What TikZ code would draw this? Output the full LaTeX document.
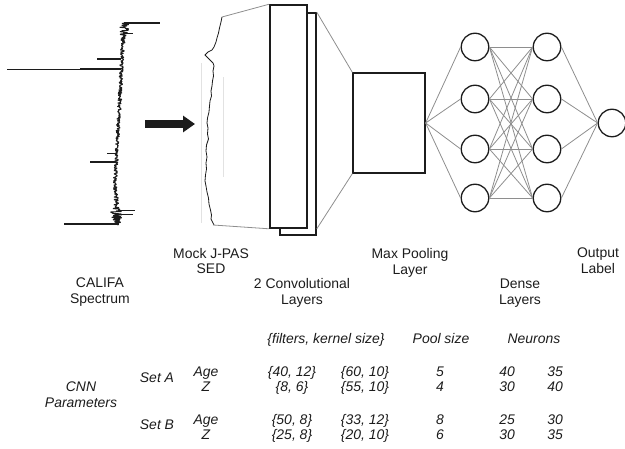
\documentclass[tikz,border=0pt]{standalone}
\usepackage{fontspec}
\setmainfont{Liberation Sans}
\usepackage{tikz}
\usetikzlibrary{arrows.meta, positioning, calc}
\usepackage{xcolor}
\definecolor{inkdark}{HTML}{1c1c1c}
\definecolor{wiregrey}{HTML}{8e8e8e}
\definecolor{ghostgrey}{HTML}{e2e2e2}
\tikzset{
  layerbox/.style={rectangle, draw=inkdark, fill=white, line width=1.6bp, inner sep=0},
  poolbox/.style={rectangle, draw=inkdark, fill=white, line width=1.3bp, inner sep=0,
                  minimum width=72bp, minimum height=100bp},
  neuron/.style={circle, draw=inkdark, fill=white, line width=1.3bp,
                 minimum size=27.5bp, inner sep=0},
  wire/.style={draw=wiregrey, line width=0.8bp},
  specline/.style={draw=inkdark, line width=1.1bp},
  bigarrow/.style={draw=inkdark, line width=8bp, -{Triangle[length=12bp,width=16bp]}},
  stagelabel/.style={font=\fontsize{14}{16}\selectfont, align=center, inner sep=0, text=inkdark},
  parlabel/.style={font=\fontsize{14}{16}\selectfont\itshape, anchor=base, inner sep=0, text=inkdark},
}

\begin{document}
\begin{tikzpicture}[x=1bp, y=-1bp]
  \useasboundingbox (0,0) rectangle (625,449);

  % CALIFA spectrum, drawn as a noisy trace
  \pgfmathsetseed{7}
  \draw[inkdark, line width=1bp, line join=bevel] plot[variable=\t, domain=23:225, samples=420]
    ({115 + 9*max(0,(183-\t)/160) + 3*max(0,(\t-183)/42)
      + (2 + 4*exp(-(((\t-28)/10)^2)/0.4) + 5*exp(-(((\t-214)/10)^2)/0.6))*rand}, \t);
  \draw[specline] (124,23) -- (160,23);
  \draw[specline, line width=0.9bp] (124,33) -- (133,33);
  \draw[specline, line width=1.3bp] (97,59) -- (121,59);
  \draw[specline, line width=0.9bp] (7,69) -- (80,69);
  \draw[specline, line width=2bp] (80,69) -- (121,69);
  \draw[specline, line width=0.9bp] (107,153) -- (116,153);
  \draw[specline] (90,162) -- (116,162);
  \draw[specline, line width=0.9bp] (118,210) -- (135,210);
  \draw[specline, line width=0.9bp] (118,214) -- (133,214);
  \draw[specline, line width=1.3bp] (64,224) -- (119,224);

  % block arrow to the mock SED
  \coordinate (arrtail) at (145,124);
  \coordinate (arrhead) at (195,124);
  \draw[bigarrow] (arrtail) -- (arrhead);

  % mock J-PAS SED
  \draw[ghostgrey, line width=0.6bp] (201.5,63) -- (201.5,223);
  \draw[ghostgrey, line width=0.6bp] (223,77) -- (223,177);
  \draw[inkdark, line width=0.8bp]
    (222,17) -- (221,22) -- (219.5,28) -- (218.5,33) -- (217,38) -- (216,42)
    -- (214,47) -- (212,50) -- (208,52) -- (205,55) -- (209,59) -- (213,63)
    -- (214,66) -- (213,71) -- (213.5,76) -- (212.5,81) -- (212,86) -- (211,91)
    -- (211.5,96) -- (210,101) -- (209.5,106) -- (209,112) -- (207.5,118)
    -- (207,123) -- (208,128) -- (207.5,134) -- (208.5,139) -- (206.5,145)
    -- (206,151) -- (207,157) -- (206,163) -- (206.5,169) -- (205.5,175)
    -- (205,181) -- (206,186) -- (207,192) -- (208.5,198) -- (209,204)
    -- (210.5,210) -- (211.5,215) -- (211,219) -- (213,223) -- (214,225);
  \coordinate (sedtop) at (222,17);
  \coordinate (sedbot) at (213,225);

  % two convolutional layers
  \node[layerbox, minimum width=36bp, minimum height=222bp] (conv2) at (298,124) {};
  \node[layerbox, minimum width=37bp, minimum height=223bp] (conv1) at (288.5,116.5) {};
  \draw[wire] (sedtop) -- (conv1.north west);
  \draw[wire] (sedbot) -- (conv1.south west);

  % max pooling
  \node[poolbox] (pool) at (389,123) {};
  \draw[wire] (conv2.north east) -- (pool.north west);
  \draw[wire] (conv2.east |- conv1.south) -- (pool.south west);

  % dense layers and output
  \foreach \i/\yy in {1/47, 2/99, 3/149, 4/198} {
    \node[neuron] (da\i) at (475,\yy) {};
    \node[neuron] (db\i) at (547,\yy) {};
  }
  \node[neuron] (out) at (612,123) {};
  \foreach \i in {1,...,4} {
    \draw[wire] (pool.east) -- (da\i.west);
    \draw[wire] (db\i.east) -- (out.west);
    \foreach \j in {1,...,4}
      \draw[wire] (da\i.east) -- (db\j.west);
  }

  % stage labels
  \node[stagelabel] (lcalifa) at (100,292.5) {CALIFA\\Spectrum};
  \node[stagelabel] (lmock)   at (211,261)   {Mock J-PAS\\SED};
  \node[stagelabel] (lconv)   at (302,292.5) {2 Convolutional\\Layers};
  \node[stagelabel] (lpool)   at (410,262.5) {Max Pooling\\Layer};
  \node[stagelabel] (ldense)  at (520,293.5) {Dense\\Layers};
  \node[stagelabel] (lout)    at (598,261)   {Output\\Label};

  % parameter table
  \node[stagelabel, font=\fontsize{14}{16}\selectfont\itshape] (lcnn) at (81,395) {CNN\\Parameters};
  \node[parlabel] (hfilt)  at (326,343) {\{filters, kernel size\}};
  \node[parlabel] (hpool)  at (441,343) {Pool size};
  \node[parlabel] (hneur)  at (534,343) {Neurons};

  \node[parlabel] (seta) at (157,382) {Set A};
  \node[parlabel] (setb) at (157,429) {Set B};

  \foreach \r/\yy/\nm/\fa/\fb/\ps/\na/\nb in {
      a1/376/Age/{40, 12}/{60, 10}/5/40/35,
      a2/391/Z/{8, 6}/{55, 10}/4/30/40,
      b1/424/Age/{50, 8}/{33, 12}/8/25/30,
      b2/439/Z/{25, 8}/{20, 10}/6/30/35} {
    \node[parlabel] (nm\r) at (206,\yy) {\nm};
    \node[parlabel] (fa\r) at (292,\yy) {\{\fa\}};
    \node[parlabel] (fb\r) at (365,\yy) {\{\fb\}};
    \node[parlabel] (ps\r) at (440,\yy) {\ps};
    \node[parlabel] (na\r) at (507,\yy) {\na};
    \node[parlabel] (nb\r) at (555,\yy) {\nb};
  }

\end{tikzpicture}
\end{document}
